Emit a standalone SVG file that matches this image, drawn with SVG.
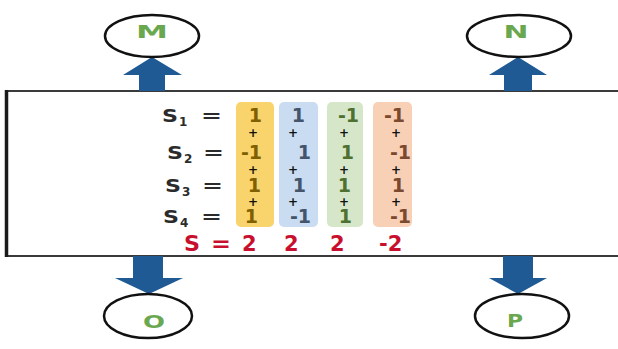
<svg xmlns="http://www.w3.org/2000/svg" width="618" height="349" viewBox="0 0 618 349">
  <style>
    .ring { fill: #ffffff; stroke: #111111; stroke-width: 2.5; }
    .tag { font-family: "DejaVu Sans", Verdana, sans-serif; font-weight: bold; font-size: 18px; fill: #6aa84f; text-anchor: middle; }
    .arrow { fill: #1f5a94; }
    .lbl { font-family: "DejaVu Sans", Verdana, sans-serif; font-weight: bold; font-size: 18px; fill: #2b2b2b; }
    .sub { font-size: 12px; }
    .num { font-family: "DejaVu Sans", Verdana, sans-serif; font-weight: bold; font-size: 19px; text-anchor: end; }
    .plus { font-family: "DejaVu Sans", Verdana, sans-serif; font-weight: bold; font-size: 12px; fill: #111111; text-anchor: middle; }
    .sum { font-family: "DejaVu Sans", Verdana, sans-serif; font-weight: bold; font-size: 21px; fill: #c8102e; }
    .c1 { fill: #7f6000; } .c2 { fill: #44546a; } .c3 { fill: #4e7030; } .c4 { fill: #7b4a2e; }
  </style>

  <!-- central panel with the code sums -->
  <g id="panel">
    <rect x="6" y="91" width="620" height="165" fill="#ffffff" stroke="#3a3a3a" stroke-width="2"/>
    <line x1="6.5" y1="90" x2="6.5" y2="257" stroke="#1a1a1a" stroke-width="3.5"/>

    <rect x="236" y="102" width="38" height="125" rx="5" fill="#f9d46c"/>
    <rect x="279" y="102" width="39" height="125" rx="5" fill="#c9dcf1"/>
    <rect x="327" y="102" width="36" height="125" rx="5" fill="#d6e7c9"/>
    <rect x="373" y="102" width="39" height="125" rx="5" fill="#f8d0b6"/>

    <text class="lbl" x="162" y="122"><tspan textLength="16" lengthAdjust="spacingAndGlyphs">S</tspan><tspan class="sub" dy="4" dx="1">1</tspan></text>
    <text class="lbl" x="201" y="122" textLength="21" lengthAdjust="spacingAndGlyphs">=</text>
    <text class="lbl" x="167" y="159"><tspan textLength="16" lengthAdjust="spacingAndGlyphs">S</tspan><tspan class="sub" dy="4" dx="1">2</tspan></text>
    <text class="lbl" x="203" y="159" textLength="21" lengthAdjust="spacingAndGlyphs">=</text>
    <text class="lbl" x="165" y="192"><tspan textLength="16" lengthAdjust="spacingAndGlyphs">S</tspan><tspan class="sub" dy="4" dx="1">3</tspan></text>
    <text class="lbl" x="202" y="192" textLength="21" lengthAdjust="spacingAndGlyphs">=</text>
    <text class="lbl" x="163" y="223"><tspan textLength="16" lengthAdjust="spacingAndGlyphs">S</tspan><tspan class="sub" dy="4" dx="1">4</tspan></text>
    <text class="lbl" x="201" y="223" textLength="21" lengthAdjust="spacingAndGlyphs">=</text>

    <!-- column 1 -->
    <text class="num c1" x="262" y="122">1</text>
    <text class="num c1" x="262" y="159">-1</text>
    <text class="num c1" x="261" y="192">1</text>
    <text class="num c1" x="258" y="223">1</text>
    <!-- column 2 -->
    <text class="num c2" x="305" y="122">1</text>
    <text class="num c2" x="311" y="159">1</text>
    <text class="num c2" x="306" y="192">1</text>
    <text class="num c2" x="311" y="223">-1</text>
    <!-- column 3 -->
    <text class="num c3" x="359" y="122">-1</text>
    <text class="num c3" x="354" y="159">1</text>
    <text class="num c3" x="351" y="192">1</text>
    <text class="num c3" x="352" y="223">1</text>
    <!-- column 4 -->
    <text class="num c4" x="405" y="122">-1</text>
    <text class="num c4" x="411" y="159">-1</text>
    <text class="num c4" x="405" y="192">1</text>
    <text class="num c4" x="411" y="223">-1</text>

    <!-- plus signs between rows -->
    <text class="plus" x="253" y="137">+</text>
    <text class="plus" x="293" y="137">+</text>
    <text class="plus" x="344" y="137">+</text>
    <text class="plus" x="396" y="137">+</text>
    <text class="plus" x="253" y="174">+</text>
    <text class="plus" x="293" y="174">+</text>
    <text class="plus" x="344" y="174">+</text>
    <text class="plus" x="396" y="174">+</text>
    <text class="plus" x="253" y="206">+</text>
    <text class="plus" x="293" y="206">+</text>
    <text class="plus" x="344" y="206">+</text>
    <text class="plus" x="396" y="206">+</text>

    <!-- totals -->
    <text class="sum" x="184" y="251" textLength="16" lengthAdjust="spacingAndGlyphs">S</text>
    <text class="sum" x="211" y="251" textLength="20" lengthAdjust="spacingAndGlyphs">=</text>
    <text class="sum" x="242" y="251">2</text>
    <text class="sum" x="284" y="251">2</text>
    <text class="sum" x="330" y="251">2</text>
    <text class="sum" x="379" y="251">-2</text>
  </g>

  <!-- connectors: block arrows between panel and outer nodes -->
  <g id="connectors">
    <polygon class="arrow" points="139,91 139,75 123,75 152,57 182,75 165,75 165,91"/>
    <polygon class="arrow" points="504,91 504,75 489,75 518,57 547,75 532,75 532,91"/>
    <polygon class="arrow" points="133,256 133,278 115,278 149,294 183,278 163,278 163,256"/>
    <polygon class="arrow" points="503,256 503,278 489,278 518,294 547,278 533,278 533,256"/>
  </g>

  <g id="node-M">
    <ellipse class="ring" cx="152" cy="36" rx="47" ry="21"/>
    <text class="tag" x="152" y="38" textLength="32" lengthAdjust="spacingAndGlyphs">M</text>
  </g>
  <g id="node-N">
    <ellipse class="ring" cx="519" cy="36" rx="52" ry="21"/>
    <text class="tag" x="516" y="38" textLength="25" lengthAdjust="spacingAndGlyphs">N</text>
  </g>
  <g id="node-O">
    <ellipse class="ring" cx="148" cy="316" rx="44" ry="22"/>
    <text class="tag" x="154" y="328" textLength="22" lengthAdjust="spacingAndGlyphs">O</text>
  </g>
  <g id="node-P">
    <ellipse class="ring" cx="522" cy="316" rx="47" ry="22"/>
    <text class="tag" x="515" y="327" textLength="16" lengthAdjust="spacingAndGlyphs">P</text>
  </g>
</svg>
